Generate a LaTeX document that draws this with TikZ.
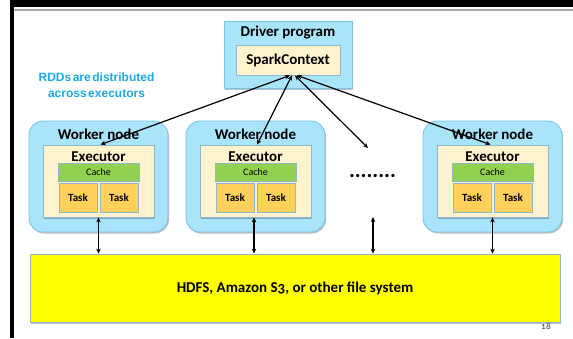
\documentclass[tikz,border=0pt]{standalone}
\usepackage{fontspec}
\setmainfont{Carlito}
\newfontfamily\osfont[Numbers=OldStyle]{Carlito}
\newfontfamily\notefont{Liberation Sans}
\newcommand\tightwords{\spaceskip=1.5pt\relax}
\usetikzlibrary{arrows.meta,shadows,calc}

\definecolor{skyfill}{RGB}{168,228,250}
\definecolor{skyline}{RGB}{118,196,226}
\definecolor{creamfill}{RGB}{255,242,204}
\definecolor{creamline}{RGB}{140,185,205}
\definecolor{cachegreen}{RGB}{146,208,80}
\definecolor{taskgold}{RGB}{255,208,90}
\definecolor{noteblue}{RGB}{28,168,230}
\definecolor{fsyellow}{RGB}{255,255,0}

\tikzset{
  boxshadow/.style={drop shadow={shadow xshift=1pt,shadow yshift=-1.5pt,opacity=0.25,fill=black}},
  workerbox/.style={draw=skyline,fill=skyfill,line width=0.8pt,rounded corners=14pt,
    minimum width=139pt,minimum height=111pt,boxshadow},
  driverbox/.style={draw=skyline,fill=skyfill,line width=0.8pt,
    minimum width=128pt,minimum height=67pt,boxshadow},
  execbox/.style={draw=creamline,fill=creamfill,line width=0.8pt,
    minimum width=111pt,minimum height=72pt,boxshadow},
  ctxbox/.style={draw=creamline,fill=creamfill,line width=0.8pt,
    minimum width=104pt,minimum height=30pt,font=\bfseries\fontsize{15}{16}\selectfont},
  cachebox/.style={draw=creamline,fill=cachegreen,line width=0.8pt,
    minimum width=81pt,minimum height=18pt,font=\fontsize{10}{11}\selectfont},
  taskbox/.style={draw=creamline,fill=taskgold,line width=0.8pt,
    minimum width=38pt,minimum height=29pt,font=\bfseries\fontsize{11}{12}\selectfont},
  fsbox/.style={draw=creamline,fill=fsyellow,line width=0.8pt,
    minimum width=530pt,minimum height=68pt,font=\osfont\bfseries\fontsize{15}{16}\selectfont,boxshadow},
  headlabel/.style={font=\bfseries\fontsize{15}{16}\selectfont,inner sep=0pt},
  link/.style={line width=1.2pt,{Stealth[length=5pt,width=4.5pt]}-{Stealth[length=5pt,width=4.5pt]}},
}

\begin{document}
\begin{tikzpicture}[x=1pt,y=-1pt]
\useasboundingbox (0,0) rectangle (573,338);

% slide frame
\fill[black] (10,0) rectangle (573,7);
\fill[black] (10,0) rectangle (14,338);
\fill[black!35] (14,8.5) rectangle (573,10.5);

% driver
\node[driverbox] (driver) at (288,54.5) {};
\node[headlabel] (driverlbl) at (288,33) {Driver program};
\node[ctxbox] (sc) at (288,60) {SparkContext};

% note
\node[text=noteblue,align=center,font=\notefont\bfseries\fontsize{12}{16}\selectfont,inner sep=0pt]
  (note) at (96.5,85) {{\tightwords RDDs are distributed}\\{\tightwords across executors}};

% workers
\foreach \i/\cx in {1/98.5,2/255.5,3/492.5}{
  \node[workerbox] (w\i) at (\cx,176.5) {};
  \node[headlabel] (w\i lbl) at (\cx,134) {Worker node};
  \node[execbox] (ex\i) at (\cx,181) {};
  \node[headlabel] (ex\i lbl) at (\cx,157) {Executor};
  \node[cachebox] (c\i) at (\cx,172) {Cache};
  \node[taskbox] (ta\i) at (\cx-20.5,197.5) {Task};
  \node[taskbox] (tb\i) at (\cx+20.5,197.5) {Task};
}

% elided workers
\node[font=\fontsize{22}{22}\selectfont\bfseries,inner sep=0pt] (dots) at (372.5,176.5) {........};
\coordinate (midtop) at (368,148);
\coordinate (midbot) at (373,217);

% shared storage
\node[fsbox] (fs) at (295,288) {HDFS, Amazon S3, or other file system};

% driver <-> executors
\draw[link] ([xshift=2pt]sc.south) -- ([xshift=2pt]ex1.north);
\draw[link] ([xshift=4pt]sc.south) -- ([xshift=1.5pt]ex2.north);
\draw[link] ([xshift=7pt]sc.south) -- (midtop);
\draw[link] ([xshift=9pt]sc.south) -- ([xshift=-2pt]ex3.north);

% executors <-> storage
\draw[link] (ex1.south) -- (ex1.south |- fs.north);
\draw[link] ([xshift=-1.5pt]ex2.south) -- ([xshift=-1.5pt]ex2.south |- fs.north);
\draw[link] (midbot) -- (midbot |- fs.north);
\draw[link] (ex3.south) -- (ex3.south |- fs.north);

% page number
\node[font=\osfont\fontsize{9.5}{10}\selectfont,text=black!75,inner sep=0pt] (pageno) at (546,326) {18};
\end{tikzpicture}
\end{document}
